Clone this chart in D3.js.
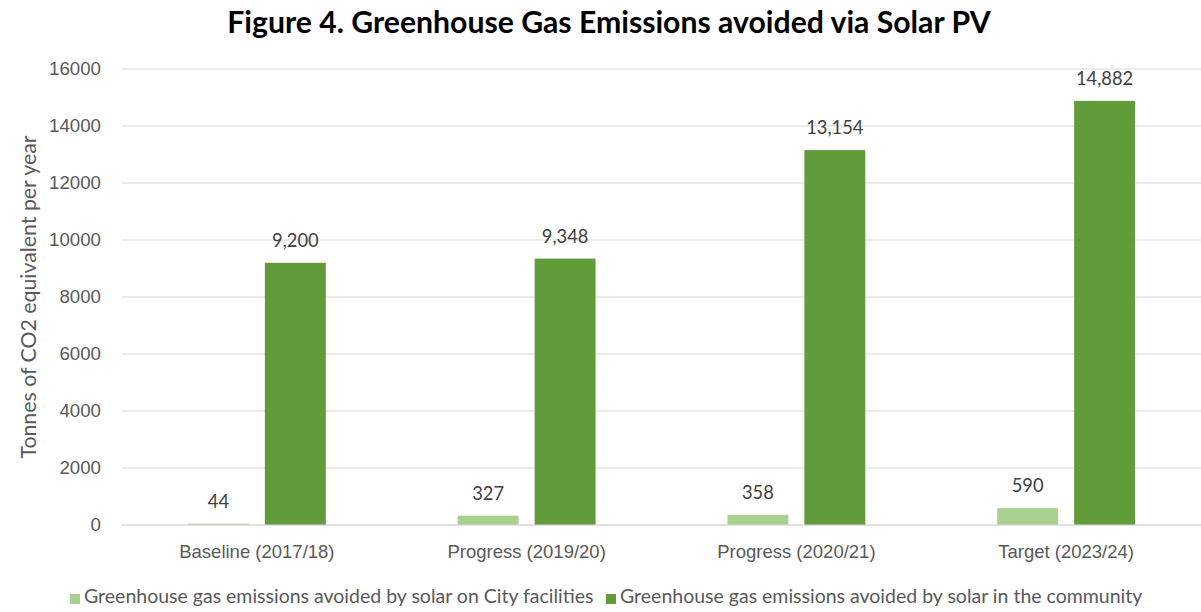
<!DOCTYPE html>
<html>
<head>
<meta charset="utf-8">
<script src="https://cdn.jsdelivr.net/npm/d3@7"></script>
<style>
  body { margin: 0; background: #fff; }
  svg { display: block; font-family: Lato, "Open Sans", sans-serif; }
</style>
</head>
<body>
<svg id="chart" width="1201" height="612"></svg>
<script>
// Datos
const categories = ["Baseline (2017/18)", "Progress (2019/20)", "Progress (2020/21)", "Target (2023/24)"];
const seriesNames = [
  "Greenhouse gas emissions avoided by solar on City facilities",
  "Greenhouse gas emissions avoided by solar in the community"
];
const cityValues = [44, 327, 358, 590];
const communityValues = [9200, 9348, 13154, 14882];
const yTicks = [0, 2000, 4000, 6000, 8000, 10000, 12000, 14000, 16000];
const colors = ["#a9d08e", "#629b3a"];

const margin = { top: 69, right: 0, bottom: 87, left: 122 };
const W = 1201, H = 612;

const svg = d3.select("#chart");

const rows = categories.map((c, i) => ({ cat: c, vals: [cityValues[i], communityValues[i]] }));

const x0 = d3.scaleBand()
  .domain(categories)
  .range([margin.left, W - margin.right])
  .paddingInner(0.489).paddingOuter(0.2445);

const x1 = d3.scaleBand()
  .domain([0, 1])
  .range([0, x0.bandwidth()])
  .paddingInner(0.208);

const y = d3.scaleLinear()
  .domain([0, 16000])
  .range([H - margin.bottom, margin.top]);

// Título
svg.append("text")
  .attr("x", 609).attr("y", 33)
  .attr("text-anchor", "middle")
  .attr("font-size", "30.2px").attr("font-weight", "bold")
  .attr("fill", "#000")
  .text("Figure 4. Greenhouse Gas Emissions avoided via Solar PV");

// Rejilla
svg.append("g")
  .selectAll("line")
  .data(yTicks)
  .join("line")
  .attr("x1", margin.left).attr("x2", W - margin.right)
  .attr("y1", d => y(d)).attr("y2", d => y(d))
  .attr("stroke", "#d9d9d9").attr("stroke-width", 1);

// Eje Y
const yAxis = svg.append("g")
  .attr("transform", `translate(${margin.left}, 0)`)
  .call(d3.axisLeft(y).tickValues(yTicks).tickSize(0).tickPadding(21).tickFormat(d3.format("d")));
yAxis.select(".domain").remove();
yAxis.selectAll("text").attr("font-size", "18.7px").attr("fill", "#595959").attr("font-family", null);

svg.append("text")
  .attr("transform", `translate(36, ${(y(0) + y(16000)) / 2}) rotate(-90)`)
  .attr("text-anchor", "middle")
  .attr("font-size", "21.3px").attr("fill", "#595959")
  .text("Tonnes of CO2 equivalent per year");

// Barras
const groups = svg.append("g")
  .selectAll("g")
  .data(rows)
  .join("g")
  .attr("transform", d => `translate(${x0(d.cat)}, 0)`);

groups.selectAll("rect")
  .data(d => d.vals.map((v, i) => ({ v, i })))
  .join("rect")
  .attr("x", d => x1(d.i))
  .attr("width", x1.bandwidth())
  .attr("y", d => y(d.v))
  .attr("height", d => y(0) - y(d.v))
  .attr("fill", d => colors[d.i]);

groups.selectAll("text.val")
  .data(d => d.vals.map((v, i) => ({ v, i })))
  .join("text")
  .attr("class", "val")
  .attr("x", d => x1(d.i) + x1.bandwidth() / 2)
  .attr("y", d => y(d.v) - 16)
  .attr("text-anchor", "middle")
  .attr("font-size", "18.3px").attr("fill", "#404040")
  .text(d => d3.format(",")(d.v));

// Línea base
svg.append("line")
  .attr("x1", margin.left).attr("x2", W - margin.right)
  .attr("y1", y(0)).attr("y2", y(0))
  .attr("stroke", "#d9d9d9");

// Eje X
const xAxis = svg.append("g")
  .attr("transform", `translate(0, ${y(0)})`)
  .call(d3.axisBottom(x0).tickSize(0).tickPadding(20));
xAxis.select(".domain").remove();
xAxis.selectAll("text").attr("font-size", "18.5px").attr("fill", "#595959").attr("font-family", null);

// Leyenda
const legendX = [70, 606];
const legend = svg.append("g")
  .selectAll("g")
  .data(seriesNames)
  .join("g")
  .attr("transform", (d, i) => `translate(${legendX[i]}, 603)`);
legend.append("rect")
  .attr("x", 0).attr("y", -9).attr("width", 10).attr("height", 10)
  .attr("fill", (d, i) => colors[i]);
legend.append("text")
  .attr("x", 14).attr("y", 0)
  .attr("font-size", "19.5px").attr("fill", "#595959")
  .text(d => d);
</script>
</body>
</html>
